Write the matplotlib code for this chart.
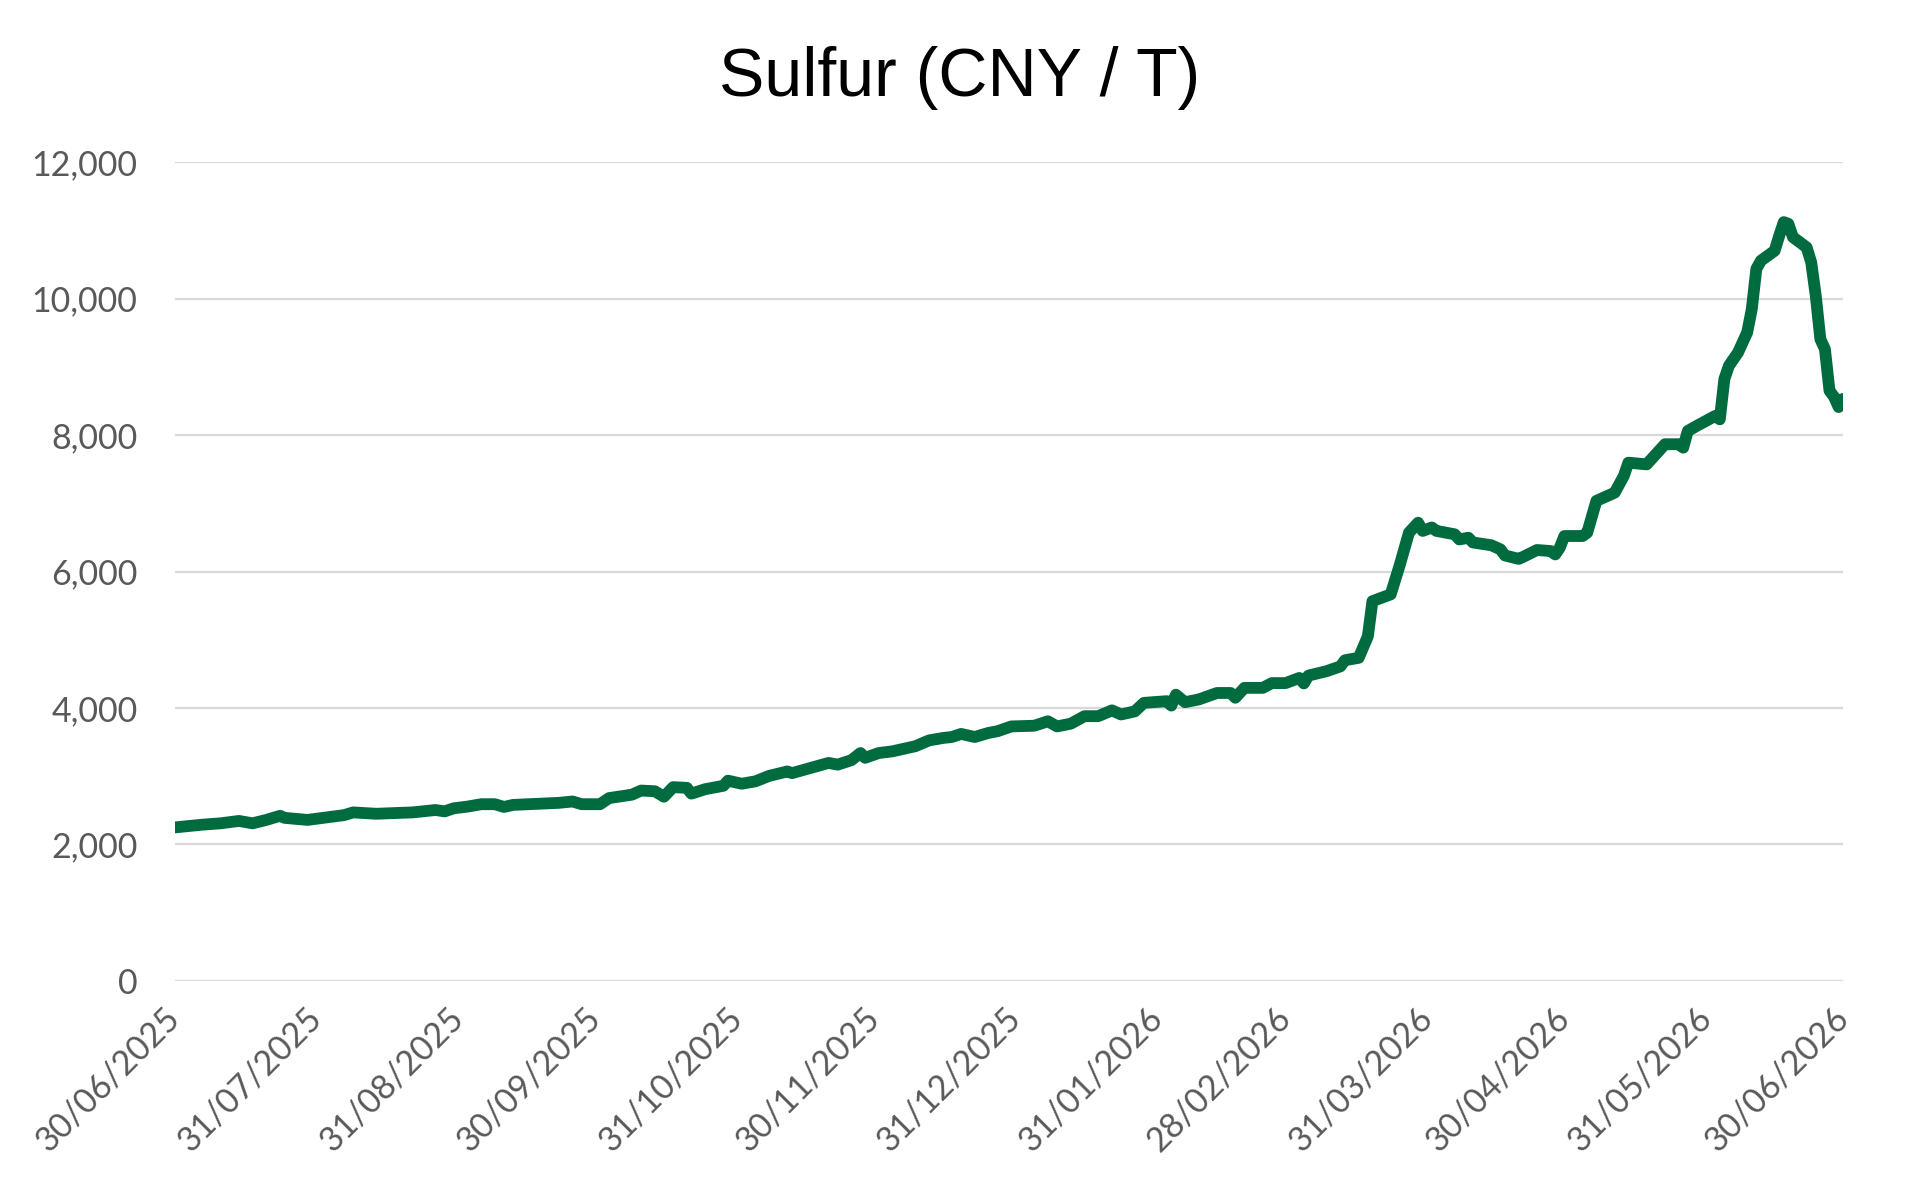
import matplotlib
matplotlib.use("Agg")
import matplotlib.pyplot as plt
import matplotlib.dates as mdates
import pandas as pd

# sulfur price, CNY per tonne
dates = [
    "2025-06-30", "2025-07-06", "2025-07-10", "2025-07-14", "2025-07-17", "2025-07-20",
    "2025-07-23", "2025-07-24", "2025-07-29", "2025-08-06", "2025-08-08", "2025-08-13",
    "2025-08-21", "2025-08-26", "2025-08-28", "2025-08-30", "2025-09-02", "2025-09-05",
    "2025-09-08", "2025-09-10", "2025-09-12", "2025-09-17", "2025-09-22", "2025-09-25",
    "2025-09-27", "2025-10-01", "2025-10-03", "2025-10-08", "2025-10-10", "2025-10-13",
    "2025-10-15", "2025-10-17", "2025-10-20", "2025-10-21", "2025-10-24", "2025-10-28",
    "2025-10-29", "2025-11-01", "2025-11-04", "2025-11-07", "2025-11-11", "2025-11-12",
    "2025-11-20", "2025-11-22", "2025-11-25", "2025-11-27", "2025-11-28", "2025-12-01",
    "2025-12-04", "2025-12-09", "2025-12-12", "2025-12-15", "2025-12-17", "2025-12-19",
    "2025-12-22", "2025-12-25", "2025-12-27", "2025-12-30", "2026-01-04", "2026-01-07",
    "2026-01-09", "2026-01-12", "2026-01-15", "2026-01-18", "2026-01-21", "2026-01-23",
    "2026-01-26", "2026-01-28", "2026-02-02", "2026-02-03", "2026-02-04", "2026-02-06",
    "2026-02-09", "2026-02-13", "2026-02-16", "2026-02-17", "2026-02-19", "2026-02-23",
    "2026-02-25", "2026-02-28", "2026-03-03", "2026-03-04", "2026-03-05", "2026-03-09",
    "2026-03-12", "2026-03-13", "2026-03-16", "2026-03-18", "2026-03-19", "2026-03-23",
    "2026-03-25", "2026-03-27", "2026-03-29", "2026-03-30", "2026-04-01", "2026-04-02",
    "2026-04-06", "2026-04-07", "2026-04-09", "2026-04-10", "2026-04-14", "2026-04-16",
    "2026-04-17", "2026-04-20", "2026-04-21", "2026-04-24", "2026-04-27", "2026-04-28",
    "2026-04-29", "2026-04-30", "2026-05-04", "2026-05-05", "2026-05-07", "2026-05-11",
    "2026-05-13", "2026-05-14", "2026-05-18", "2026-05-22", "2026-05-25", "2026-05-26",
    "2026-05-27", "2026-05-29", "2026-06-02", "2026-06-03", "2026-06-04", "2026-06-05",
    "2026-06-07", "2026-06-09", "2026-06-10", "2026-06-11", "2026-06-12", "2026-06-15",
    "2026-06-16", "2026-06-17", "2026-06-18", "2026-06-19", "2026-06-22", "2026-06-23",
    "2026-06-24", "2026-06-25", "2026-06-26", "2026-06-27", "2026-06-28", "2026-06-29",
    "2026-06-30",
]
prices = [
    2250, 2290, 2310, 2345, 2310, 2360,
    2420, 2390, 2360, 2430, 2470, 2450,
    2470, 2505, 2485, 2530, 2555, 2590,
    2590, 2550, 2580, 2595, 2610, 2630,
    2590, 2590, 2680, 2730, 2790, 2780,
    2700, 2840, 2830, 2745, 2810, 2860,
    2935, 2890, 2925, 3005, 3070, 3045,
    3195, 3170, 3235, 3340, 3270, 3340,
    3365, 3440, 3525, 3560, 3575, 3620,
    3575, 3635, 3660, 3730, 3740, 3805,
    3730, 3770, 3880, 3880, 3965, 3905,
    3950, 4075, 4100, 4035, 4195, 4085,
    4125, 4220, 4220, 4150, 4295, 4295,
    4365, 4365, 4440, 4360, 4475, 4540,
    4610, 4700, 4735, 5050, 5565, 5665,
    6100, 6570, 6715, 6595, 6645, 6595,
    6545, 6470, 6495, 6425, 6385, 6325,
    6235, 6185, 6215, 6315, 6300, 6250,
    6350, 6520, 6520, 6570, 7035, 7155,
    7400, 7595, 7570, 7865, 7865, 7815,
    8060, 8135, 8280, 8230, 8820, 9015,
    9210, 9505, 9845, 10435, 10555, 10700,
    10920, 11120, 11095, 10900, 10750, 10530,
    10040, 9405, 9260, 8650, 8560, 8410,
    8530,
]

tick_dates = ["2025-06-30", "2025-07-31", "2025-08-31", "2025-09-30", "2025-10-31",
              "2025-11-30", "2025-12-31", "2026-01-31", "2026-02-28", "2026-03-31",
              "2026-04-30", "2026-05-31", "2026-06-30"]
y_ticks = [0, 2000, 4000, 6000, 8000, 10000, 12000]

x = pd.to_datetime(dates)

fig = plt.figure(figsize=(19.2, 11.96), dpi=100)
ax = fig.add_axes([0.0911, 0.1798, 0.8689, 0.6847])

ax.plot(x, prices, color="#006B3F", linewidth=8.5, solid_joinstyle="round",
        solid_capstyle="round", zorder=3)

ax.set_xlim(pd.Timestamp(tick_dates[0]), pd.Timestamp(tick_dates[-1]))
ax.set_ylim(0, 12000)
ax.set_yticks(y_ticks)
ax.yaxis.set_major_formatter(matplotlib.ticker.FuncFormatter(lambda v, p: f"{int(v):,}"))
ax.set_xticks(pd.to_datetime(tick_dates))
ax.xaxis.set_major_formatter(mdates.DateFormatter("%d/%m/%Y"))

ax.grid(axis="y", color="#D9D9D9", linewidth=1.6, zorder=0)
ax.grid(axis="x", visible=False)
for s in ax.spines.values():
    s.set_visible(False)

ax.tick_params(axis="y", length=0, pad=27, labelsize=24.5, labelcolor="#595959")
ax.tick_params(axis="x", length=0, pad=23, labelsize=24.5, labelcolor="#595959")
for lab in ax.get_yticklabels() + ax.get_xticklabels():
    lab.set_fontfamily("Lato")
for lab in ax.get_xticklabels():
    lab.set_rotation(45)
    lab.set_ha("right")
    lab.set_va("center")
    lab.set_rotation_mode("anchor")

fig.text(0.5, 1 - 78 / 1196, "Sulfur (CNY / T)", ha="center", va="center",
         fontsize=49, fontfamily="Liberation Sans", color="black")

fig.savefig("out.png", dpi=100, facecolor="white")
